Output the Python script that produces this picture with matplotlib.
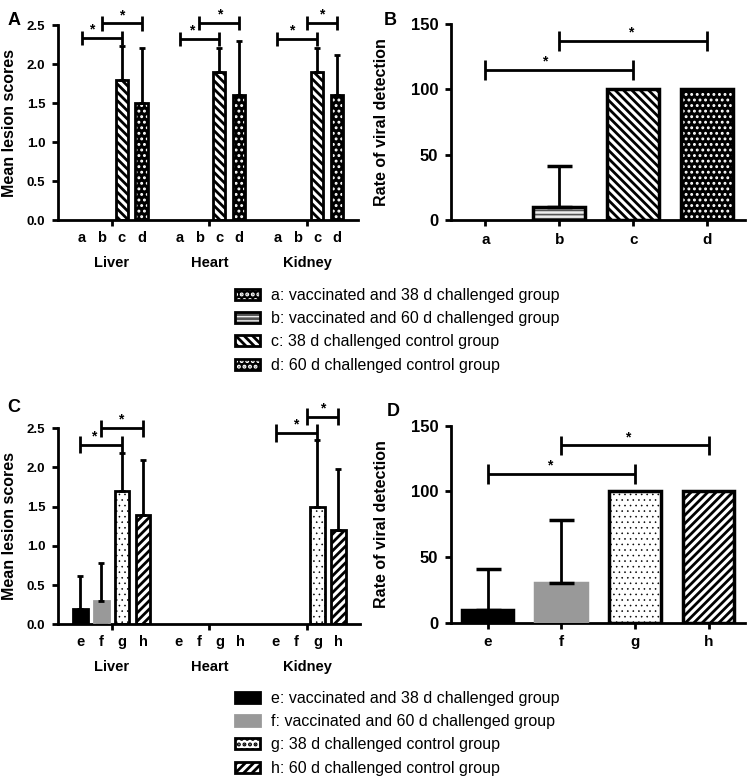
import numpy as np
import matplotlib
matplotlib.use("Agg")
from matplotlib import pyplot as plt
from matplotlib.patches import Patch
from matplotlib.legend_handler import HandlerTuple

plt.rcParams['font.family'] = ['Liberation Sans', 'DejaVu Sans']
plt.rcParams['hatch.linewidth'] = 2.0

# --- data -------------------------------------------------------------
organs = ['Liver', 'Heart', 'Kidney']

# panel A: mean lesion scores, groups a-d
letters_top = ['a', 'b', 'c', 'd']
lesion_a = [0.0, 0.0, 0.0]
lesion_b = [0.0, 0.0, 0.0]
lesion_c = [1.8, 1.9, 1.9]
lesion_d = [1.5, 1.6, 1.6]
lesion_a_err = [0.0, 0.0, 0.0]
lesion_b_err = [0.0, 0.0, 0.0]
lesion_c_err = [0.43, 0.31, 0.31]
lesion_d_err = [0.70, 0.70, 0.52]

# panel B: rate of viral detection, groups a-d
viral_top = [0, 10, 100, 100]
viral_top_err = [0, 31, 0, 0]

# panel C: mean lesion scores, groups e-h
letters_bot = ['e', 'f', 'g', 'h']
lesion_e = [0.2, 0.0, 0.0]
lesion_f = [0.3, 0.0, 0.0]
lesion_g = [1.7, 0.0, 1.5]
lesion_h = [1.4, 0.0, 1.2]
lesion_e_err = [0.42, 0.0, 0.0]
lesion_f_err = [0.48, 0.0, 0.0]
lesion_g_err = [0.48, 0.0, 0.85]
lesion_h_err = [0.70, 0.0, 0.78]

# panel D: rate of viral detection, groups e-h
viral_bot = [10, 30, 100, 100]
viral_bot_err = [31, 48, 0, 0]

legend_top = ['a: vaccinated and 38 d challenged group',
              'b: vaccinated and 60 d challenged group',
              'c: 38 d challenged control group',
              'd: 60 d challenged control group']
legend_bot = ['e: vaccinated and 38 d challenged group',
              'f: vaccinated and 60 d challenged group',
              'g: 38 d challenged control group',
              'h: 60 d challenged control group']

# significance brackets: (organ index, from bar, to bar, height)
sig_A = [(0, 0, 2, 2.33), (0, 1, 3, 2.52), (1, 0, 2, 2.32), (1, 1, 3, 2.53),
         (2, 0, 2, 2.32), (2, 1.5, 3, 2.53)]
sig_B = [(0, 2, 115), (1, 3, 137)]
sig_C = [(0, 0, 2, 2.29), (0, 1, 3, 2.50), (2, 0, 2, 2.44), (2, 1.5, 3, 2.65)]
sig_D = [(0, 2, 113), (1, 3, 135)]

# --- styles -------------------------------------------------------------
# (face, hatch, hatch colour, edge colour, hatch linewidth)
styles_top = [('black', '...', 'white', 'black', 1.3),
              ('#eeeeee', '----', '#555555', 'black', 1.2),
              ('white', '\\\\\\\\', 'black', 'black', 2.0),
              ('black', '...', 'white', 'black', 1.3)]
styles_bot = [('black', None, 'black', 'black', 1.0),
              ('#999999', None, '#999999', '#999999', 1.0),
              ('white', '...', 'black', 'black', 0.4),
              ('white', '////', 'black', 'black', 2.0)]


def styled_bar(ax, x, h, w, style, lw=2):
    face, hatch, hcol, ecol, hlw = style
    with plt.rc_context({'hatch.linewidth': hlw}):
        ax.bar(x, h, w, color=face, edgecolor=hcol, hatch=hatch, linewidth=0, zorder=2)
    ax.bar(x, h, w, fill=False, edgecolor=ecol, linewidth=lw, zorder=3)


def legend_handle(style):
    face, hatch, hcol, ecol, hlw = style
    with plt.rc_context({'hatch.linewidth': hlw}):
        fill = Patch(facecolor=face, edgecolor=hcol, hatch=hatch, linewidth=0)
    return (fill, Patch(fill=False, edgecolor=ecol, linewidth=2))


def bracket(ax, x1, x2, y, h, frac, lw=2):
    kw = dict(color='black', linewidth=lw, clip_on=False, zorder=5, solid_capstyle='butt')
    ax.plot([x1, x2], [y, y], **kw)
    ax.plot([x1, x1], [y - h, y + h], **kw)
    ax.plot([x2, x2], [y - h, y + h], **kw)
    ax.annotate('*', (x1 + frac * (x2 - x1), y), xytext=(0, 1), textcoords='offset points',
                ha='center', va='bottom', fontsize=10, fontweight='bold', annotation_clip=False)


def style_axes(ax, ylabel, lab_x, ytick_size):
    for side in ['top', 'right']:
        ax.spines[side].set_visible(False)
    for side in ['left', 'bottom']:
        ax.spines[side].set_linewidth(2)
    ax.tick_params(axis='both', which='major', width=2, length=4, direction='out')
    ax.tick_params(axis='y', labelsize=ytick_size, pad=5)
    for lab in ax.get_yticklabels():
        lab.set_fontweight('bold')
    ax.set_ylabel(ylabel, fontsize=11.5, fontweight='bold')
    ax.yaxis.set_label_coords(lab_x, 0.5)


def grouped_panel(ax, means, errs, letters, styles, width, pitch, capsize, sig, sig_h, fracs):
    centers = np.arange(len(organs))
    offsets = (np.arange(4) - 1.5) * pitch
    for k in range(4):
        xs = centers + offsets[k]
        for i in range(len(organs)):
            if means[k][i] > 0:
                styled_bar(ax, xs[i], means[k][i], width, styles[k])
            if errs[k][i] > 0:
                ax.errorbar(xs[i], means[k][i], yerr=[[0], [errs[k][i]]], fmt='none',
                            ecolor='black', elinewidth=2, capsize=capsize, capthick=2, zorder=4)
    for (g, b1, b2, y), frac in zip(sig, fracs):
        bracket(ax, centers[g] + (b1 - 1.5) * pitch, centers[g] + (b2 - 1.5) * pitch, y, sig_h, frac)
    ax.set_ylim(0, 2.5)
    ax.set_yticks([0, 0.5, 1.0, 1.5, 2.0, 2.5])
    ax.set_yticklabels(['0.0', '0.5', '1.0', '1.5', '2.0', '2.5'])
    ax.set_xticks(centers)
    ax.set_xticklabels(organs, fontsize=10.5, fontweight='bold')
    minor = np.concatenate([c + offsets for c in centers])
    ax.set_xticks(minor, minor=True)
    ax.set_xticklabels(letters * len(organs), minor=True, fontsize=10.5, fontweight='bold')
    ax.tick_params(axis='x', which='minor', length=0, pad=8)
    ax.tick_params(axis='x', which='major', pad=22)


def rate_panel(ax, vals, errs, letters, styles, sig, fracs):
    xs = np.arange(len(vals))
    for k in range(len(vals)):
        if vals[k] > 0:
            styled_bar(ax, xs[k], vals[k], 0.7, styles[k], lw=2.5)
        if errs[k] > 0:
            ax.errorbar(xs[k], vals[k], yerr=[[0], [errs[k]]], fmt='none', ecolor='black',
                        elinewidth=2, capsize=9, capthick=2.5, zorder=4)
    for (b1, b2, y), frac in zip(sig, fracs):
        bracket(ax, xs[b1], xs[b2], y, 7.5, frac)
    ax.set_ylim(0, 150)
    ax.set_yticks([0, 50, 100, 150])
    ax.set_xticks(xs)
    ax.set_xticklabels(letters, fontsize=11, fontweight='bold')
    ax.tick_params(axis='x', pad=5)


fig = plt.figure(figsize=(7.48, 7.78), dpi=100)

axA = fig.add_axes([0.0775, 0.7172, 0.401, 0.2506])
grouped_panel(axA, [lesion_a, lesion_b, lesion_c, lesion_d],
              [lesion_a_err, lesion_b_err, lesion_c_err, lesion_d_err],
              letters_top, styles_top, 0.125, 0.204, 2.5, sig_A, 0.09,
              [0.25, 0.5, 0.3, 0.5, 0.37, 0.5])
axA.set_xlim(-0.55, 2.52)
style_axes(axA, 'Mean lesion scores', -0.137, 9.5)

axB = fig.add_axes([0.6026, 0.7172, 0.394, 0.252])
rate_panel(axB, viral_top, viral_top_err, letters_top, styles_top, sig_B, [0.4, 0.48])
axB.set_xlim(-0.47, 3.52)
style_axes(axB, 'Rate of viral detection', -0.209, 12)

axC = fig.add_axes([0.0775, 0.1976, 0.4035, 0.2519])
grouped_panel(axC, [lesion_e, lesion_f, lesion_g, lesion_h],
              [lesion_e_err, lesion_f_err, lesion_g_err, lesion_h_err],
              letters_bot, styles_bot, 0.15, 0.214, 2.5, sig_C, 0.11,
              [0.31, 0.46, 0.49, 0.5])
axC.set_xlim(-0.55, 2.54)
style_axes(axC, 'Mean lesion scores', -0.137, 9.5)

axD = fig.add_axes([0.6026, 0.1996, 0.394, 0.2532])
rate_panel(axD, viral_bot, viral_bot_err, letters_bot, styles_bot, sig_D, [0.42, 0.45])
axD.set_xlim(-0.5, 3.5)
style_axes(axD, 'Rate of viral detection', -0.209, 12)

for lab, x, y in [('A', 0.010, 0.985), ('B', 0.513, 0.985), ('C', 0.010, 0.487), ('D', 0.517, 0.482)]:
    fig.text(x, y, lab, fontsize=13, fontweight='bold', va='top')

leg_kw = dict(loc='upper left', frameon=False, fontsize=11.5, handlelength=1.55, handleheight=0.7,
              handletextpad=0.7, labelspacing=0.52, borderpad=0, borderaxespad=0,
              handler_map={tuple: HandlerTuple(ndivide=1)})
fig.legend([legend_handle(s) for s in styles_top], legend_top, bbox_to_anchor=(0.314, 0.630), **leg_kw)
fig.legend([legend_handle(s) for s in styles_bot], legend_bot, bbox_to_anchor=(0.314, 0.112), **leg_kw)

fig.savefig('out.png', dpi=100)
